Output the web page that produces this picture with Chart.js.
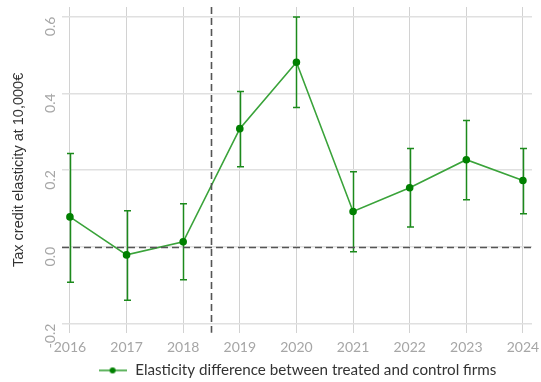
<!DOCTYPE html>
<html>
<head>
<meta charset="utf-8">
<script src="https://cdn.jsdelivr.net/npm/chart.js@4/dist/chart.umd.min.js"></script>
<style>
html,body{margin:0;padding:0;background:#fff;}
#wrap{width:541px;height:382px;position:relative;}
</style>
</head>
<body>
<div id="wrap"><canvas id="c" width="541" height="382"></canvas></div>
<script>
const years = [2016, 2017, 2018, 2019, 2020, 2021, 2022, 2023, 2024];
const estimate = [0.078, -0.021, 0.013, 0.308, 0.481, 0.092, 0.154, 0.227, 0.173];
const lower = [-0.092, -0.139, -0.086, 0.209, 0.363, -0.013, 0.052, 0.123, 0.086];
const upper = [0.243, 0.094, 0.112, 0.405, 0.599, 0.196, 0.256, 0.329, 0.256];
const yTicks = [-0.2, 0.0, 0.2, 0.4, 0.6];
const treatmentLine = 2018.5;
const seriesLabel = 'Elasticity difference between treated and control firms';
const yTitle = 'Tax credit elasticity at 10,000€';

const FONT = 'Lato, "Open Sans", sans-serif';
const TITLE_FONT = '"Liberation Sans", Arial, sans-serif';

// legend marker: line with dot
const marker = document.createElement('canvas');
marker.width = 28; marker.height = 10;
(function(){
  const m = marker.getContext('2d');
  m.strokeStyle = '#3aa33a'; m.lineWidth = 1.6;
  m.beginPath(); m.moveTo(0,5); m.lineTo(28,5); m.stroke();
  m.fillStyle = '#008000';
  m.beginPath(); m.arc(14,5,3,0,Math.PI*2); m.fill();
})();

const refLines = {
  id: 'refLines',
  afterDatasetsDraw(chart) {
    const {ctx, chartArea: a, scales: {x, y}} = chart;
    ctx.save();
    ctx.strokeStyle = '#555';
    ctx.lineWidth = 1.6;
    ctx.setLineDash([7, 4]);
    const y0 = Math.round(y.getPixelForValue(0)) + 0.5;
    ctx.beginPath(); ctx.moveTo(a.left, y0); ctx.lineTo(a.right, y0); ctx.stroke();
    const xv = Math.round(x.getPixelForValue(treatmentLine)) + 0.5;
    ctx.beginPath(); ctx.moveTo(xv, a.top); ctx.lineTo(xv, a.bottom); ctx.stroke();
    ctx.restore();
  }
};

const errorBars = {
  id: 'errorBars',
  beforeDatasetsDraw(chart) {
    const {ctx, scales: {x, y}} = chart;
    ctx.save();
    ctx.strokeStyle = '#1c8a1c';
    ctx.lineWidth = 1.5;
    years.forEach((yr, i) => {
      const px = Math.round(x.getPixelForValue(yr)) + 0.5;
      const pt = y.getPixelForValue(upper[i]);
      const pb = y.getPixelForValue(lower[i]);
      ctx.beginPath();
      ctx.moveTo(px, pt); ctx.lineTo(px, pb);
      ctx.moveTo(px - 3.5, pt); ctx.lineTo(px + 3.5, pt);
      ctx.moveTo(px - 3.5, pb); ctx.lineTo(px + 3.5, pb);
      ctx.stroke();
    });
    ctx.restore();
  }
};

new Chart(document.getElementById('c'), {
  type: 'line',
  data: {
    datasets: [{
      label: seriesLabel,
      data: years.map((yr, i) => ({x: yr, y: estimate[i]})),
      borderColor: '#3aa33a',
      borderWidth: 1.6,
      backgroundColor: '#008000',
      pointBackgroundColor: '#008000',
      pointBorderColor: '#008000',
      pointRadius: 3,
      pointHoverRadius: 3,
      tension: 0,
      fill: false
    }]
  },
  options: {
    responsive: false,
    animation: false,
    layout: {padding: {top: 7, right: 9, left: 0, bottom: -6}},
    plugins: {
      tooltip: {enabled: false},
      legend: {
        position: 'bottom',
        fullSize: false,
        labels: {
          usePointStyle: true,
          pointStyleWidth: 30,
          padding: 2,
          color: '#333',
          font: {family: FONT, size: 15.2},
          generateLabels(chart) {
            return [{
              text: seriesLabel,
              pointStyle: marker,
              fillStyle: '#008000',
              strokeStyle: '#008000',
              lineWidth: 0,
              hidden: false,
              datasetIndex: 0,
              fontColor: '#333'
            }];
          }
        }
      }
    },
    scales: {
      x: {
        type: 'linear',
        min: 2015.86,
        max: 2024.16,
        afterBuildTicks(scale) {
          scale.ticks = years.map(v => ({value: v}));
        },
        ticks: {
          callback: v => String(v),
          color: '#a6a6a6',
          font: {family: FONT, size: 14},
          padding: 6,
          maxRotation: 0
        },
        grid: {color: '#d2d2d2', lineWidth: 1, drawTicks: false},
        border: {display: false},
        afterFit(scale) {
          scale.height = 28;
          scale.paddingLeft = 0; scale.paddingRight = 0;
        }
      },
      y: {
        type: 'linear',
        min: -0.224,
        max: 0.625,
        afterBuildTicks(scale) {
          scale.ticks = yTicks.map(v => ({value: v}));
        },
        ticks: {
          callback: v => v.toFixed(1),
          color: '#a6a6a6',
          font: {family: FONT, size: 14},
          minRotation: 90,
          maxRotation: 90,
          padding: 12
        },
        grid: {color: '#e0e0e0', lineWidth: 1.5, drawTicks: false},
        border: {display: false},
        title: {
          display: true,
          text: yTitle,
          color: '#333',
          font: {family: TITLE_FONT, size: 14.5},
          padding: {top: 10, bottom: 0}
        },
        afterFit(scale) {
          scale.width = 62;
          scale.paddingTop = 0; scale.paddingBottom = 0;
        }
      }
    }
  },
  plugins: [errorBars, refLines]
});
</script>
</body>
</html>
